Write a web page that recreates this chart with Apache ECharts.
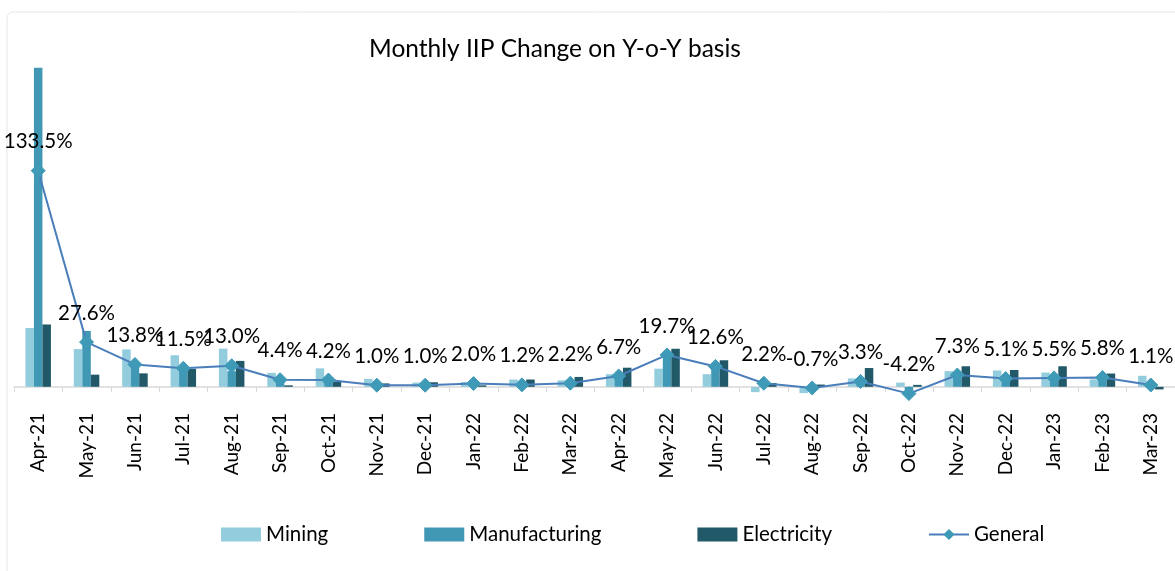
<!DOCTYPE html>
<html>
<head>
<meta charset="utf-8">
<script src="https://cdn.jsdelivr.net/npm/echarts@6/dist/echarts.min.js"></script>
<style>
  html, body { margin: 0; padding: 0; background: #fff; }
  #main { width: 1175px; height: 571px; }
</style>
</head>
<body>
<div id="main"></div>
<script>
// months (x axis)
var months = ['Apr-21', 'May-21', 'Jun-21', 'Jul-21', 'Aug-21', 'Sep-21', 'Oct-21', 'Nov-21',
  'Dec-21', 'Jan-22', 'Feb-22', 'Mar-22', 'Apr-22', 'May-22', 'Jun-22', 'Jul-22', 'Aug-22',
  'Sep-22', 'Oct-22', 'Nov-22', 'Dec-22', 'Jan-23', 'Feb-23', 'Mar-23']
// y-o-y change, %
var mining = [36.3, 23.3, 23.1, 19.5, 23.6, 8.6, 11.4, 4.9, 2.6, 3.0, 4.5, 4.0,
  7.8, 11.2, 7.8, -3.3, -3.9, 5.2, 2.6, 9.7, 10.1, 8.8, 4.6, 6.8]
var manufacturing = [197.1, 34.5, 13.0, 10.5, 9.7, 3.0, 3.1, 0.3, 0.1, 1.9, 0.2, 1.4,
  5.6, 20.7, 12.9, 3.1, -0.5, 1.8, -5.6, 6.1, 3.1, 3.7, 5.6, 0.5]
var electricity = [38.5, 7.5, 8.3, 11.1, 16.0, 0.9, 3.1, 2.1, 2.8, 0.9, 4.5, 6.1,
  11.8, 23.5, 16.4, 2.3, 1.4, 11.6, 1.2, 12.7, 10.4, 12.7, 8.2, -1.6]
var general = [133.5, 27.6, 13.8, 11.5, 13.0, 4.4, 4.2, 1.0, 1.0, 2.0, 1.2, 2.2,
  6.7, 19.7, 12.6, 2.2, -0.7, 3.3, -4.2, 7.3, 5.1, 5.5, 5.8, 1.1]

var font = 'Lato, "Open Sans", sans-serif'

var myChart = echarts.init(document.getElementById('main'))

function barSeries (name, data, color) {
  return {
    name: name,
    type: 'bar',
    data: data,
    barWidth: 8.5,
    barGap: '0%',
    itemStyle: { color: color }
  }
}

myChart.setOption({
  backgroundColor: '#fff',
  textStyle: { fontFamily: font },
  title: {
    text: 'Monthly IIP Change on Y-o-Y basis',
    left: 550,
    textAlign: 'center',
    top: 32,
    textStyle: { fontFamily: font, fontSize: 24.5, fontWeight: 'normal', color: '#000' }
  },
  graphic: [{
    type: 'rect',
    shape: { x: 7, y: 12, width: 1200, height: 600, r: 6 },
    style: { fill: 'none', stroke: '#e6e6e6', lineWidth: 1 },
    silent: true,
    z: -1
  }],
  legend: {
    left: 216,
    top: 519,
    itemGap: 96,
    itemWidth: 40,
    itemHeight: 14,
    textStyle: { fontFamily: font, fontSize: 20.5, color: '#000' },
    data: [
      { name: 'Mining', icon: 'rect' },
      { name: 'Manufacturing', icon: 'rect' },
      { name: 'Electricity', icon: 'rect' },
      { name: 'General' }
    ]
  },
  grid: { left: 14, right: -10, top: 63, bottom: 168 },
  xAxis: {
    type: 'category',
    data: months,
    axisLine: { onZero: true, lineStyle: { color: '#d9d9d9', width: 1.5 } },
    axisTick: { show: true, interval: 0, length: 5, lineStyle: { color: '#d9d9d9' } },
    axisLabel: { rotate: 90, interval: 0, fontSize: 19, color: '#000', margin: 10, fontFamily: font }
  },
  yAxis: {
    type: 'value',
    min: -10,
    max: 200,
    show: false,
    splitLine: { show: false }
  },
  series: [
    barSeries('Mining', mining, '#93cddd'),
    barSeries('Manufacturing', manufacturing, '#4198b5'),
    barSeries('Electricity', electricity, '#215968'),
    {
      name: 'General',
      type: 'line',
      data: general,
      symbol: 'diamond',
      symbolSize: 14,
      z: 5,
      lineStyle: { color: '#4a7ebb', width: 2 },
      itemStyle: { color: '#3f9ab8', borderColor: '#3f9ab8' },
      label: {
        show: true,
        position: 'top',
        distance: 11,
        fontSize: 20.5,
        color: '#000',
        fontFamily: font,
        formatter: function (p) { return p.value.toFixed(1) + '%' }
      }
    }
  ]
})
</script>
</body>
</html>
